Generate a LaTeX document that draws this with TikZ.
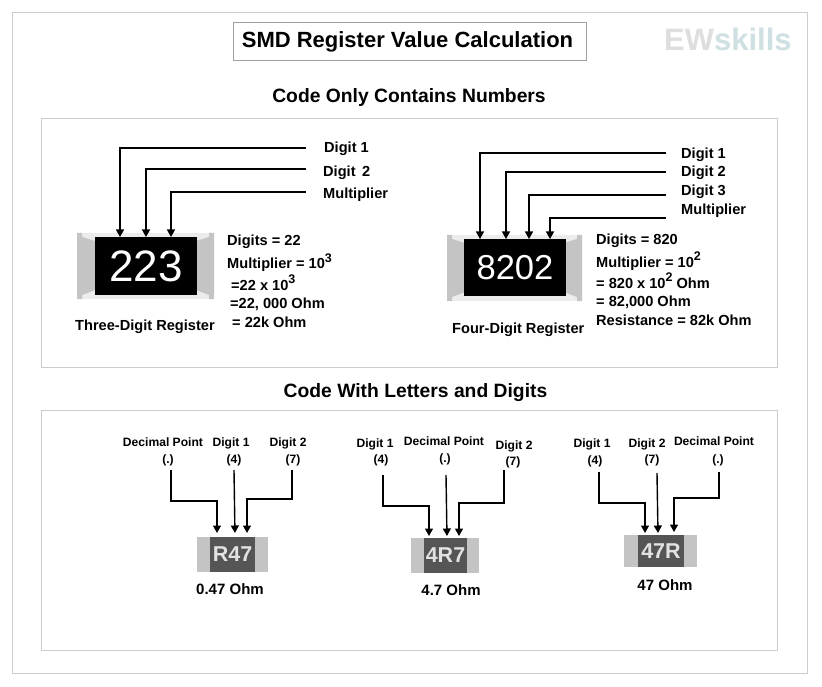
\documentclass[tikz,border=0pt]{standalone}
\usepackage{fontspec}
\setmainfont{Liberation Sans}
\usetikzlibrary{arrows.meta, positioning}
\definecolor{framegray}{RGB}{204, 204, 204}
\definecolor{titlegray}{RGB}{160, 160, 160}
\definecolor{capgray}{RGB}{196, 196, 196}
\definecolor{capfaint}{RGB}{236, 236, 236}
\definecolor{bodygray}{RGB}{85, 85, 85}
\definecolor{inkwhite}{RGB}{226, 226, 226}
\definecolor{markgray}{RGB}{222, 222, 222}
\definecolor{marksky}{RGB}{207, 224, 226}
\newcommand{\pw}[1]{\raisebox{0.42em}{\fontsize{12.5}{12}\selectfont #1}}
\tikzset{
  frame/.style={draw=framegray, line width=0.9pt},
  heading/.style={font=\fontsize{19.3}{22}\selectfont\bfseries, inner sep=0pt, text height=14pt, text depth=0pt},
  label/.style={font=\fontsize{14.6}{16}\selectfont\bfseries, anchor=west, inner sep=0pt, text height=10pt, text depth=0pt},
  small/.style={font=\fontsize{12.1}{14}\selectfont\bfseries, inner sep=0pt, text height=9pt, text depth=0pt},
  value/.style={font=\fontsize{15}{17}\selectfont\bfseries, inner sep=0pt, text height=11pt, text depth=0pt},
  capbox/.style={fill=capgray, inner sep=0pt, outer sep=0pt},
  capback/.style={fill=capfaint, inner sep=0pt, outer sep=0pt},
  chipbig/.style={fill=black, text=white, inner sep=0pt, outer sep=0pt},
  chipsmall/.style={fill=bodygray, text=inkwhite, inner sep=0pt, outer sep=0pt, font=\fontsize{21.5}{24}\selectfont\bfseries},
  wire/.style={line width=1.4pt, -{Triangle[length=7.5pt, width=8pt]}}
}
\begin{document}
\begin{tikzpicture}[x=1pt, y=-1pt]
  \useasboundingbox (0,0) rectangle (822,687);
  \fill[white] (0,0) rectangle (822,687);
  \draw[frame] (12,12) rectangle (807,673);
  \draw[frame] (41,118) rectangle (777,367);
  \draw[frame] (41,410) rectangle (777,650);

  \node[draw=titlegray, line width=0.9pt, minimum width=353pt, minimum height=38pt, inner sep=0pt] (title) at (409.5,41) {};
  \node[inner sep=0pt, font=\fontsize{22}{26}\selectfont\bfseries, text height=16pt, text depth=0pt] (titletext) at (407.5,40) {SMD Register Value Calculation};
  \node[anchor=west, inner sep=0pt, font=\fontsize{31}{34}\selectfont\bfseries, text height=22pt, text depth=0pt] (logo) at (664,40)
    {\textcolor{markgray}{EW}\textcolor{marksky}{skills}};
  \node[heading] (headA) at (409,96) {Code Only Contains Numbers};
  \node[heading] (headB) at (415.5,390) {Code With Letters and Digits};

  \node[capback, minimum width=137pt, minimum height=66pt] (capA) at (145.5,266) {};
  \node[capback, minimum width=135pt, minimum height=66pt] (capB) at (514.5,268) {};
  \foreach \cap in {capA, capB} {
    \fill[capgray] (\cap.north west) -- +(5,0) -- +(5,4) -- +(18,8) -- +(18,57) -- +(5,62) -- +(5,66) -- +(0,66) -- cycle;
    \fill[capgray] (\cap.north east) -- +(-5,0) -- +(-5,4) -- +(-18,8) -- +(-18,57) -- +(-5,62) -- +(-5,66) -- +(0,66) -- cycle;
  }
  \node[chipbig, minimum width=102pt, minimum height=58pt, font=\fontsize{44}{46}\selectfont] (chipA) at (146,266) {223};
  \node[label] (digitA1) at (324,148) {Digit 1};
  \node[label] (digitA2) at (323,172) {Digit\, 2};
  \node[label] (multA) at (323,194) {Multiplier};
  \coordinate (freeA1) at (306,148);
  \coordinate (freeA2) at (306,169);
  \coordinate (freeA3) at (306,192);
  \draw[wire] (freeA1) -| ([xshift=25pt]chipA.north west);
  \draw[wire] (freeA2) -| ([xshift=51pt]chipA.north west);
  \draw[wire] (freeA3) -| ([xshift=76pt]chipA.north west);
  \node[label] (nameA) at (75,325) {Three-Digit Register};
  \node[label] (calcA1) at (227,241) {Digits = 22};
  \node[label] (calcA2) at (227,264) {Multiplier = 10\pw{3}};
  \node[label] (calcA3) at (231,285) {=22 x 10\pw{3}};
  \node[label] (calcA4) at (230,303) {=22, 000 Ohm};
  \node[label] (calcA5) at (232,322) {= 22k Ohm};

  \node[chipbig, minimum width=102pt, minimum height=57pt, font=\fontsize{34.6}{36}\selectfont] (chipB) at (515,267.5) {8202};
  \node[label] (digitB1) at (681,154) {Digit 1};
  \node[label] (digitB2) at (681,172) {Digit 2};
  \node[label] (digitB3) at (681,191) {Digit 3};
  \node[label] (multB) at (681,210) {Multiplier};
  \coordinate (freeB1) at (666,153);
  \coordinate (freeB2) at (666,172);
  \coordinate (freeB3) at (666,195);
  \coordinate (freeB4) at (666,218);
  \draw[wire] (freeB1) -| ([xshift=16pt]chipB.north west);
  \draw[wire] (freeB2) -| ([xshift=42pt]chipB.north west);
  \draw[wire] (freeB3) -| ([xshift=65pt]chipB.north west);
  \draw[wire] (freeB4) -| ([xshift=86pt]chipB.north west);
  \node[label] (nameB) at (452,328) {Four-Digit Register};
  \node[label] (calcB1) at (596,239) {Digits = 820};
  \node[label] (calcB2) at (596,262) {Multiplier = 10\pw{2}};
  \node[label] (calcB3) at (596,283) {= 820 x 10\pw{2} Ohm};
  \node[label] (calcB4) at (596,301) {= 82,000 Ohm};
  \node[label] (calcB5) at (596,320) {Resistance = 82k Ohm};

  \node[capbox, minimum width=71pt, minimum height=35pt] (capC) at (232.5,554.5) {};
  \node[chipsmall, minimum width=45pt, minimum height=35pt] (chipC) at (232.5,554.5) {R47};
  \node[small] (pointC) at (163,442) {Decimal Point};
  \node[small] (dotC) at (168,459) {(.)};
  \node[small] (digitC1) at (231,442) {Digit 1};
  \node[small] (fourC) at (234,459) {(4)};
  \node[small] (digitC2) at (288,442) {Digit 2};
  \node[small] (sevenC) at (293,459) {(7)};
  \coordinate (freeC1) at (171,470);
  \coordinate (freeC2) at (234,470);
  \coordinate (freeC3) at (292,470);
  \coordinate (bendC1) at (217,501);
  \coordinate (bendC3) at (247,499);
  \draw[wire, shorten >=4pt] (freeC1) |- (bendC1) -- ([xshift=7pt]chipC.north west);
  \draw[wire, shorten >=4pt] (freeC2) -- ([xshift=25pt]chipC.north west);
  \draw[wire, shorten >=4pt] (freeC3) |- (bendC3) -- ([xshift=37pt]chipC.north west);
  \node[value] (ohmC) at (230,589) {0.47 Ohm};

  \node[capbox, minimum width=68pt, minimum height=35pt] (capD) at (445,555.5) {};
  \node[chipsmall, minimum width=43pt, minimum height=35pt] (chipD) at (445.5,555.5) {4R7};
  \node[small] (digitD1) at (375,443) {Digit 1};
  \node[small] (fourD) at (381,459) {(4)};
  \node[small] (pointD) at (444,441) {Decimal Point};
  \node[small] (dotD) at (445,458) {(.)};
  \node[small] (digitD2) at (514,445) {Digit 2};
  \node[small] (sevenD) at (513,461) {(7)};
  \coordinate (freeD1) at (383,475);
  \coordinate (freeD2) at (446,475);
  \coordinate (freeD3) at (504,470);
  \coordinate (bendD1) at (429,506);
  \coordinate (bendD3) at (459,503);
  \draw[wire, shorten >=2pt] (freeD1) |- (bendD1) -- ([xshift=5pt]chipD.north west);
  \draw[wire, shorten >=2pt] (freeD2) -- ([xshift=23pt]chipD.north west);
  \draw[wire, shorten >=2pt] (freeD3) |- (bendD3) -- ([xshift=35pt]chipD.north west);
  \node[value] (ohmD) at (451,590) {4.7 Ohm};

  \node[capbox, minimum width=73pt, minimum height=32pt] (capE) at (660.5,551) {};
  \node[chipsmall, minimum width=46pt, minimum height=32pt] (chipE) at (661,551) {47R};
  \node[small] (digitE1) at (592,443) {Digit 1};
  \node[small] (fourE) at (595,460) {(4)};
  \node[small] (digitE2) at (647,443) {Digit 2};
  \node[small] (sevenE) at (652,459) {(7)};
  \node[small] (pointE) at (714,441) {Decimal Point};
  \node[small] (dotE) at (718,459) {(.)};
  \coordinate (freeE1) at (599,472);
  \coordinate (freeE2) at (657,473);
  \coordinate (freeE3) at (719,472);
  \coordinate (bendE1) at (645,503);
  \coordinate (bendE3) at (674,498);
  \draw[wire, shorten >=2pt] (freeE1) |- (bendE1) -- ([xshift=7pt]chipE.north west);
  \draw[wire, shorten >=2pt] (freeE2) -- ([xshift=20pt]chipE.north west);
  \draw[wire, shorten >=3pt] (freeE3) |- (bendE3) -- ([xshift=36pt]chipE.north west);
  \node[value] (ohmE) at (665,585) {47 Ohm};
\end{tikzpicture}
\end{document}
